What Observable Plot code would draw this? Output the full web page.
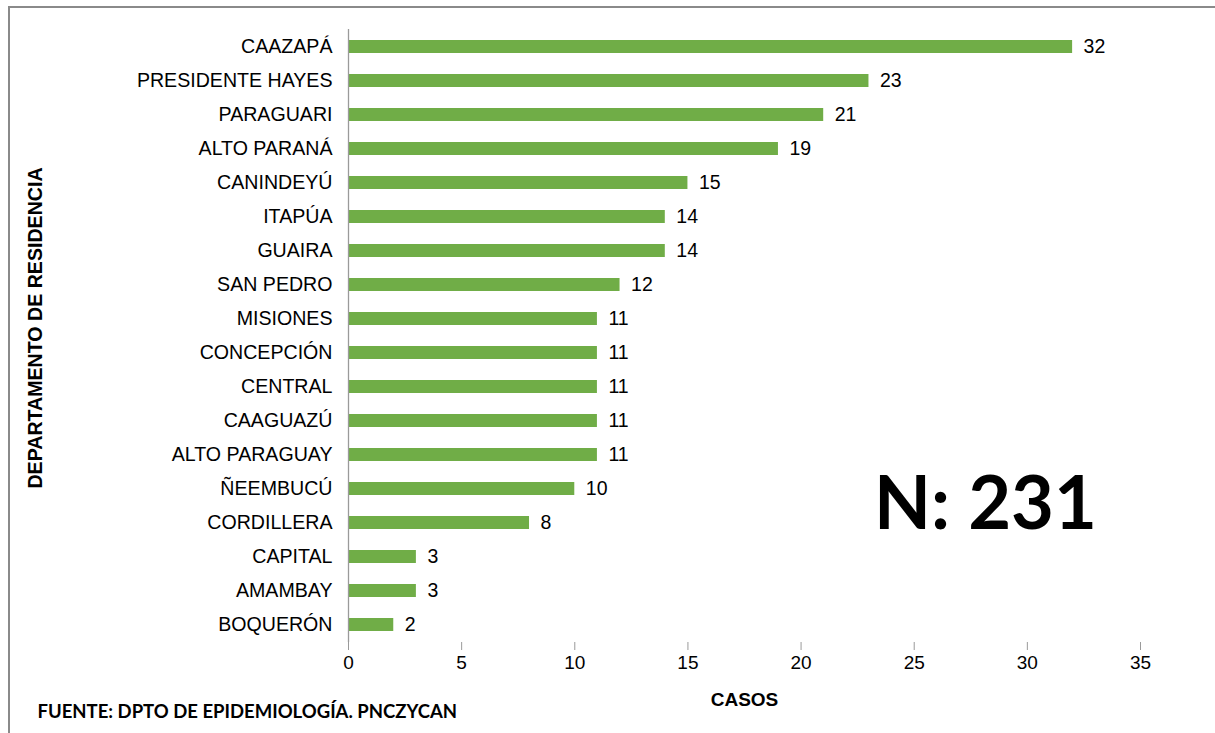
<!DOCTYPE html>
<html>
<head>
<meta charset="utf-8">
<script src="https://cdn.jsdelivr.net/npm/d3@7"></script>
<script src="https://cdn.jsdelivr.net/npm/@observablehq/plot@0.6"></script>
<style>
  html, body { margin: 0; padding: 0; background: #fff; }
  #wrap { position: relative; width: 1215px; height: 733px; overflow: hidden; }
  #border { position: absolute; left: 8px; top: 6px; width: 1300px; height: 800px;
            border-left: 2px solid #8a8a8a; border-top: 2px solid #8a8a8a; pointer-events: none; }
  #chart { position: absolute; left: 0; top: 0; }
</style>
</head>
<body>
<div id="wrap"><div id="chart"></div><div id="border"></div></div>
<script>
const departamentos = [
  "CAAZAPÁ", "PRESIDENTE HAYES", "PARAGUARI", "ALTO PARANÁ", "CANINDEYÚ",
  "ITAPÚA", "GUAIRA", "SAN PEDRO", "MISIONES", "CONCEPCIÓN", "CENTRAL",
  "CAAGUAZÚ", "ALTO PARAGUAY", "ÑEEMBUCÚ", "CORDILLERA", "CAPITAL",
  "AMAMBAY", "BOQUERÓN"
];
const casos = [32, 23, 21, 19, 15, 14, 14, 12, 11, 11, 11, 11, 11, 10, 8, 3, 3, 2];
const xTicks = [0, 5, 10, 15, 20, 25, 30, 35];
const yTitle = "DEPARTAMENTO DE RESIDENCIA";
const xTitle = "CASOS";
const fuente = "FUENTE: DPTO DE EPIDEMIOLOGÍA. PNCZYCAN";
const total = "N: 231";

const data = departamentos.map((d, i) => ({dep: d, casos: casos[i]}));

const arial = "Liberation Sans, Arial, sans-serif";
const calibri = "Lato, sans-serif";

const chart = Plot.plot({
  width: 1215,
  height: 733,
  marginTop: 29,
  marginBottom: 91,
  marginLeft: 348,
  marginRight: 75,
  style: {fontSize: "19px", color: "#000", background: "transparent", fontFamily: arial},
  x: {domain: [0, 35], axis: null},
  y: {domain: departamentos, paddingInner: 0.62, paddingOuter: 0.31, axis: null},
  marks: [
    Plot.barX(data, {x: "casos", y: "dep", fill: "#70ad47"}),
    Plot.ruleX([0], {stroke: "#9a9a9a", strokeWidth: 1.3}),
    Plot.axisX({ticks: xTicks, tickSize: 8, tickPadding: 5, stroke: "#9a9a9a", fill: "#000",
                line: true, label: null, fontSize: 19, fontFamily: arial, tickFormat: d => String(d)}),
    Plot.axisY({tickSize: 0, tickPadding: 16, fill: "#000", label: null, fontSize: 19.6, fontFamily: arial}),
    Plot.text(data, {x: "casos", y: "dep", text: d => String(d.casos), dx: 11,
                     textAnchor: "start", fill: "#000", fontSize: 19.5, fontFamily: arial}),
    Plot.text([yTitle], {frameAnchor: "left", dx: -313, dy: -8, rotate: -90,
                         textAnchor: "middle", lineAnchor: "middle",
                         fontWeight: "bold", fontSize: 19.6, fill: "#000", fontFamily: arial}),
    Plot.text([xTitle], {frameAnchor: "bottom", dy: 57, textAnchor: "middle", lineAnchor: "middle",
                         fontWeight: "bold", fontSize: 19, fill: "#000", fontFamily: arial}),
    Plot.text([fuente], {frameAnchor: "bottom-left", dx: -311, dy: 70, textAnchor: "start",
                         lineAnchor: "middle",
                         fontWeight: "bold", fontSize: 18.5, fill: "#000", fontFamily: calibri}),
    Plot.text([total], {frameAnchor: "bottom-right", dx: -155, dy: -137,
                        textAnchor: "middle", lineAnchor: "middle",
                        fontWeight: "bold", fontSize: 74, fill: "#000", fontFamily: calibri})
  ]
});
document.getElementById("chart").appendChild(chart);
</script>
</body>
</html>
